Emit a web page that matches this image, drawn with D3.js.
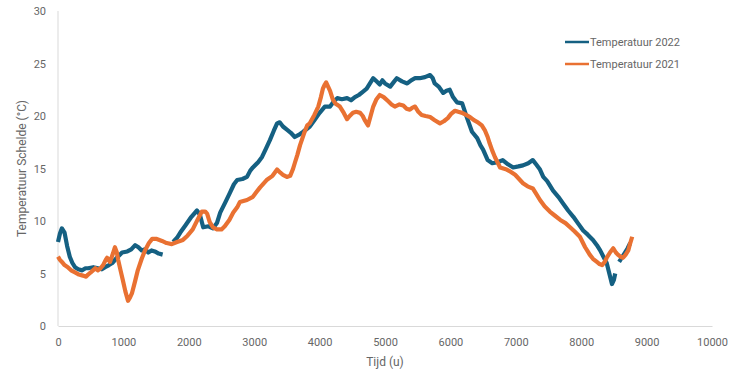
<!DOCTYPE html>
<html>
<head>
<meta charset="utf-8">
<script src="https://cdn.jsdelivr.net/npm/d3@7"></script>
<style>
  body { margin: 0; background: #fff; }
  svg text { font-family: Roboto, "Open Sans", sans-serif; fill: #666; }
  .axis path, .axis line { stroke: #d9d9d9; }
</style>
</head>
<body>
<script>
// Temperatuur 2022 (blue) - hours / degC, null = gap in the record
var t2022 = [0,30,60,100,140,180,220,260,310,370,420,460,540,610,670,720,780,830,900,980,
  1060,1120,1180,1230,1280,1330,1380,1430,1480,1540,1600,1620,1760,1820,1870,1950,2040,2125,2170,2220,
  2300,2370,2430,2480,2560,2630,2690,2740,2820,2890,2940,2980,3060,3120,3180,3240,3300,3350,3390,3440,
  3500,3560,3620,3680,3750,3850,3920,4000,4080,4160,4220,4270,4340,4420,4480,4540,4600,4660,4720,4770,
  4820,4870,4920,4960,5000,5080,5130,5180,5260,5340,5400,5460,5530,5610,5690,5730,5760,5820,5890,5940,
  5990,6040,6100,6180,6250,6330,6410,6460,6500,6570,6640,6720,6800,6880,6960,7040,7110,7190,7260,7310,
  7370,7420,7480,7570,7650,7720,7800,7880,7960,8030,8100,8180,8240,8290,8340,8390,8430,8470,8500,8520,
  8545,8580,8620,8670,8710,8750];
var v2022 = [8.0,8.8,9.3,8.9,7.6,6.6,6.0,5.6,5.4,5.3,5.5,5.5,5.6,5.5,5.4,5.6,5.8,6.0,6.5,7.0,
  7.1,7.3,7.7,7.5,7.2,7.3,7.0,7.2,7.1,6.9,6.8,null,8.0,8.4,8.9,9.6,10.4,11.0,10.6,9.4,
  9.5,9.3,9.8,10.8,11.8,12.7,13.5,13.9,14.0,14.2,14.8,15.1,15.6,16.1,16.9,17.7,18.6,19.3,19.4,19.0,
  18.7,18.4,18.0,18.2,18.5,19.0,19.6,20.3,20.9,20.9,21.4,21.7,21.6,21.7,21.5,21.8,22.0,22.3,22.6,23.1,
  23.6,23.3,23.0,23.4,23.1,22.8,23.2,23.6,23.3,23.1,23.4,23.6,23.6,23.7,23.9,23.6,23.1,22.8,22.2,22.4,
  22.5,21.8,21.3,21.2,19.9,18.5,17.9,17.2,16.8,15.8,15.5,15.6,15.8,15.4,15.1,15.2,15.3,15.5,15.8,15.4,
  14.9,14.2,13.8,12.9,12.3,11.7,11.0,10.4,9.7,9.1,8.7,8.2,7.7,7.2,6.6,6.0,5.0,4.0,4.4,5.0,
  null,6.1,6.5,7.0,7.4,7.9];

// Temperatuur 2021 (orange)
var t2021 = [0,30,60,100,150,200,260,320,380,430,460,500,535,570,610,650,690,730,750,795,
  840,870,900,920,960,990,1030,1070,1100,1130,1180,1220,1280,1330,1390,1440,1500,1590,1660,1740,
  1820,1910,1980,2060,2140,2200,2250,2280,2320,2370,2430,2500,2550,2620,2680,2740,2780,2890,2980,3040,
  3090,3190,3280,3350,3400,3440,3500,3550,3590,3620,3660,3700,3760,3810,3850,3920,3980,4020,4050,4080,
  4100,4130,4160,4200,4240,4310,4360,4420,4460,4510,4560,4620,4660,4690,4740,4780,4820,4870,4920,4980,
  5050,5100,5150,5220,5280,5330,5380,5420,5460,5510,5560,5620,5690,5760,5840,5900,5960,6010,6070,6120,
  6180,6240,6300,6360,6420,6480,6530,6570,6600,6640,6680,6720,6760,6860,6920,6990,7050,7110,7180,7260,
  7310,7370,7440,7520,7600,7680,7760,7830,7900,7980,8020,8060,8100,8130,8180,8240,8280,8320,8360,8390,
  8440,8490,8530,8560,8600,8640,8680,8720,8750,8780];
var v2021 = [6.6,6.3,6.1,5.8,5.6,5.3,5.1,4.9,4.8,4.7,4.9,5.1,5.3,5.5,5.3,5.5,5.8,6.3,6.5,6.1,
  6.9,7.5,7.0,6.3,5.2,4.4,3.3,2.4,2.7,3.1,4.3,5.3,6.4,7.2,7.9,8.3,8.3,8.1,7.9,7.8,
  8.0,8.2,8.6,9.2,10.2,10.9,10.9,10.7,9.9,9.4,9.2,9.2,9.5,10.1,10.8,11.3,11.8,12.0,12.3,12.8,
  13.2,13.9,14.3,14.9,14.6,14.4,14.2,14.3,14.9,15.5,16.3,17.2,18.3,19.1,19.3,20.1,20.9,21.8,22.6,23.0,
  23.2,22.8,22.4,21.6,21.2,20.9,20.4,19.7,20.0,20.3,20.4,20.3,20.0,19.6,19.1,20.0,20.9,21.6,22.0,21.8,
  21.4,21.1,20.9,21.1,21.0,20.7,20.6,20.8,20.9,20.4,20.1,20.0,19.9,19.6,19.3,19.5,19.8,20.2,20.5,20.4,
  20.3,20.1,19.9,19.6,19.4,19.1,18.6,18.0,17.4,16.7,16.1,15.6,15.1,14.9,14.7,14.4,14.0,13.6,13.3,13.1,
  12.6,12.0,11.4,10.9,10.5,10.1,9.8,9.4,9.0,8.5,8.0,7.5,7.1,6.8,6.4,6.1,5.9,5.8,6.1,6.5,
  7.0,7.4,7.0,6.8,6.6,6.5,6.8,7.2,7.9,8.5];

var xTicks = [0,1000,2000,3000,4000,5000,6000,7000,8000,9000,10000];
var yTicks = [0,5,10,15,20,25,30];

var seriesNames = ["Temperatuur 2022", "Temperatuur 2021"];
var seriesColors = ["#156082", "#e97132"];

var W = 731, H = 372;
var margin = {left: 58, right: 19, top: 11, bottom: 46};

var svg = d3.select("body").append("svg")
    .attr("width", W)
    .attr("height", H);

var x = d3.scaleLinear().domain([0, 10000]).range([margin.left, W - margin.right]);
var y = d3.scaleLinear().domain([0, 30]).range([H - margin.bottom, margin.top]);

// axes
var xAxis = svg.append("g")
    .attr("class", "axis")
    .attr("transform", "translate(0," + y(0) + ")")
    .call(d3.axisBottom(x).tickValues(xTicks).tickSize(0).tickPadding(12).tickFormat(d3.format("d")));
xAxis.selectAll("text").style("font-size", "11px");

var yAxis = svg.append("g")
    .attr("class", "axis")
    .attr("transform", "translate(" + x(0) + ",0)")
    .call(d3.axisLeft(y).tickValues(yTicks).tickSize(0).tickPadding(12));
yAxis.selectAll("text").style("font-size", "11px");
yAxis.select("path").attr("d", "M0," + y(30) + "V" + y(0));

// series
function drawSeries(ts, vs, color) {
    var pts = ts.map(function (t, i) { return {t: t, v: vs[i]}; });
    var line = d3.line()
        .defined(function (d) { return d.v !== null; })
        .x(function (d) { return x(d.t); })
        .y(function (d) { return y(d.v); });
    svg.append("path")
        .datum(pts)
        .attr("fill", "none")
        .attr("stroke", color)
        .attr("stroke-width", 4.2)
        .attr("stroke-linejoin", "round")
        .attr("d", line);
}
drawSeries(t2022, v2022, seriesColors[0]);
drawSeries(t2021, v2021, seriesColors[1]);

// axis titles
svg.append("text")
    .attr("x", x(5000))
    .attr("y", 366)
    .attr("text-anchor", "middle")
    .style("font-size", "12px")
    .text("Tijd (u)");

svg.append("text")
    .attr("transform", "translate(26," + ((y(0) + y(30)) / 2) + ") rotate(-90)")
    .attr("text-anchor", "middle")
    .style("font-size", "12px")
    .text("Temperatuur Schelde (°C)");

// legend
var legend = svg.append("g").attr("transform", "translate(565,42)");
seriesNames.forEach(function (name, i) {
    var g = legend.append("g").attr("transform", "translate(0," + (i * 22) + ")");
    g.append("line")
        .attr("x1", 0).attr("x2", 24)
        .attr("y1", 0).attr("y2", 0)
        .attr("stroke", seriesColors[i])
        .attr("stroke-width", 2.5);
    g.append("text")
        .attr("x", 25)
        .attr("y", 4)
        .style("font-size", "11px")
        .text(name);
});
</script>
</body>
</html>
